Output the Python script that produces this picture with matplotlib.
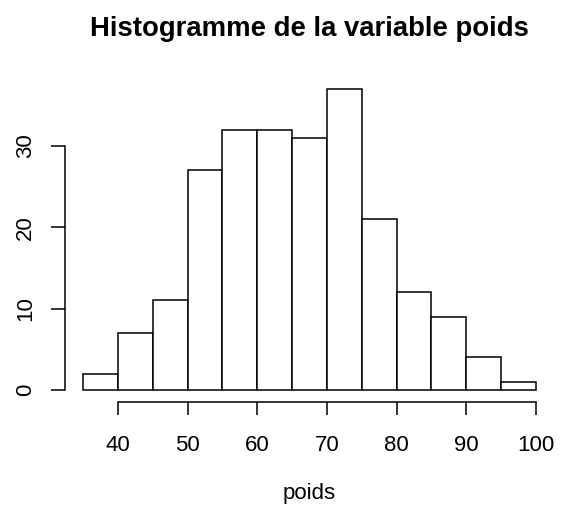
import numpy as np
import matplotlib.pyplot as plt

plt.rcParams['font.family'] = ['Liberation Sans', 'DejaVu Sans']

# histogram data (bins of width 5)
bin_edges = [35, 40, 45, 50, 55, 60, 65, 70, 75, 80, 85, 90, 95, 100]
counts = [2, 7, 11, 27, 32, 32, 31, 37, 21, 12, 9, 4, 1]
xticks = [40, 50, 60, 70, 80, 90, 100]
yticks = [0, 10, 20, 30]

fig = plt.figure(figsize=(5.61, 5.15), dpi=100)
ax = fig.add_axes([65/561, 1 - 402/515, (554 - 65)/561, (402 - 77)/515])

edges = np.array(bin_edges)
ax.bar(edges[:-1], counts, width=np.diff(edges), align='edge',
       facecolor='white', edgecolor='black', linewidth=1.1)

# R-style extended ranges
xr = edges[-1] - edges[0]
ax.set_xlim(edges[0] - 0.04 * xr, edges[-1] + 0.04 * xr)
ymax = max(counts)
ax.set_ylim(-0.04 * ymax, ymax * 1.04)

for s in ['top', 'right']:
    ax.spines[s].set_visible(False)
ax.spines['bottom'].set_bounds(xticks[0], xticks[-1])
ax.spines['left'].set_bounds(yticks[0], yticks[-1])
for s in ['bottom', 'left']:
    ax.spines[s].set_linewidth(1.1)

ax.set_xticks(xticks)
ax.set_yticks(yticks)
ax.tick_params(axis='x', direction='out', length=9.5, width=1.1, pad=14, labelsize=16)
ax.tick_params(axis='y', direction='out', length=10, width=1.1, pad=11, labelsize=16,
               labelrotation=90)
for lab in ax.get_yticklabels():
    lab.set_verticalalignment('center')

xc = (65 + (554 - 65) / 2) / 561
fig.text(xc, 1 - 29/515, 'Histogramme de la variable poids', ha='center', va='center',
         fontsize=19.8, fontweight='bold')
fig.text(xc, 1 - 494/515, 'poids', ha='center', va='center', fontsize=16)

fig.savefig('out.png', dpi=100)
